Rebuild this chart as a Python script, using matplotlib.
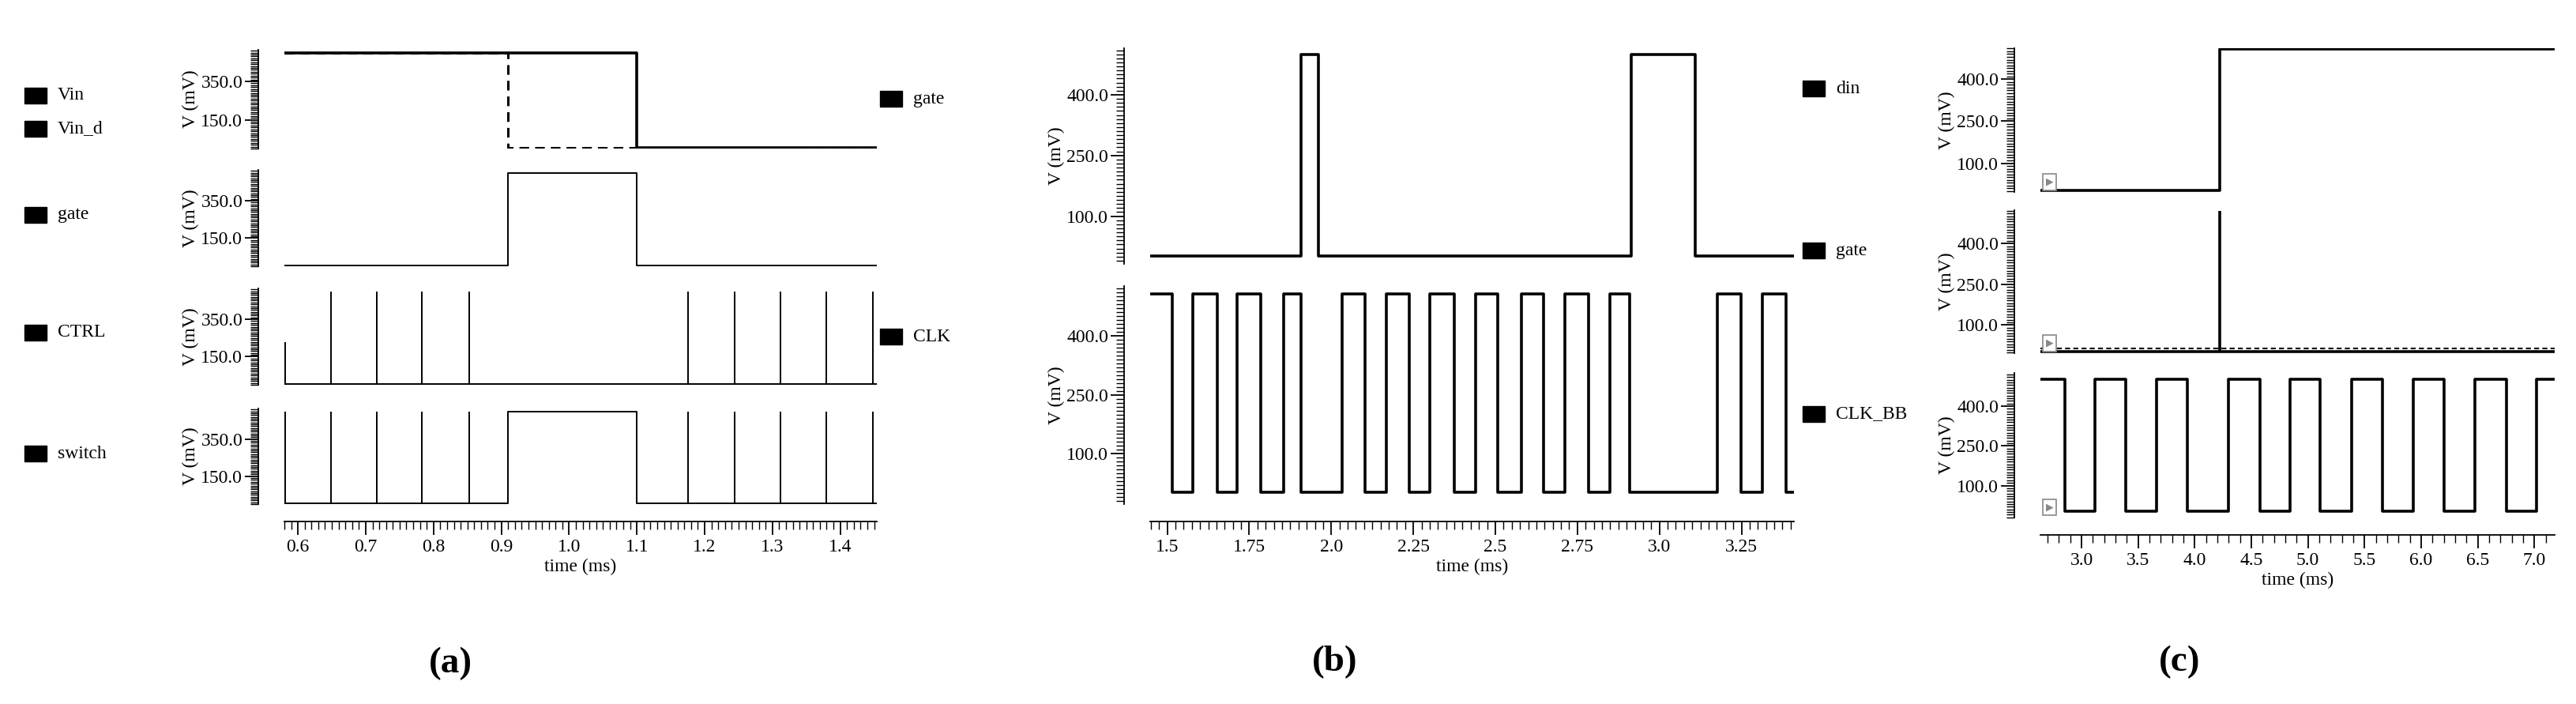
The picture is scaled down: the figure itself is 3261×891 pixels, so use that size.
import matplotlib.pyplot as plt
import matplotlib.ticker as mticker
from matplotlib.patches import Rectangle
import numpy as np

plt.rcParams['font.family'] = ['Liberation Serif', 'DejaVu Serif']
plt.rcParams['font.size'] = 17

W, H = 3262, 891

# ---------------- data ----------------
# panel (a)
a_vin_t = [0.58, 1.10, 1.454]
a_vin_v = [500, 5, 5]
a_vind_t = [0.58, 0.91, 1.454]
a_vind_v = [500, 5, 5]
a_gate_t = [0.58, 0.91, 1.10, 1.454]
a_gate_v = [5, 500, 5, 5]
a_ctrl_spikes = [0.581, 0.649, 0.7165, 0.783, 0.853, 1.175, 1.244, 1.312, 1.379, 1.448]
a_ctrl_heights = [230, 500, 500, 500, 500, 500, 500, 500, 500, 500]
a_sw_spikes = [0.581, 0.649, 0.7165, 0.783, 0.853, 1.175, 1.244, 1.312, 1.379, 1.448]
a_sw_t = [0.58, 0.91, 1.10, 1.454]
a_sw_v = [5, 500, 5, 5]

# panel (b)
b_din_t = [1.448, 1.909, 1.96, 2.913, 3.11, 3.41]
b_din_v = [2, 500, 2, 500, 2, 2]
b_clk_t = [1.448, 1.515, 1.579, 1.652, 1.712, 1.784, 1.855, 1.909, 2.034, 2.102,
           2.167, 2.237, 2.30, 2.375, 2.44, 2.507, 2.58, 2.646, 2.712, 2.785,
           2.85, 2.909, 3.176, 3.248, 3.314, 3.386, 3.41]
b_clk_v = [506, 3, 506, 3, 506, 3, 506, 3, 506, 3,
           506, 3, 506, 3, 506, 3, 506, 3, 506, 3,
           506, 3, 506, 3, 506, 3, 3]

# panel (c)
c_din_t = [2.637, 4.223, 7.18]
c_din_v = [3, 508, 508]
c_gate_spike_t = 4.223
c_gate_spike_v = 520
c_clk_t = [2.637, 2.853, 3.118, 3.391, 3.665, 3.934, 4.297, 4.574, 4.839, 5.108,
           5.389, 5.659, 5.928, 6.205, 6.478, 6.752, 7.02, 7.18]
c_clk_v = [501, 4, 501, 4, 501, 4, 501, 4, 501, 4,
           501, 4, 501, 4, 501, 4, 501, 501]


def box(x0, y0, x1, y1):
    return [x0 / W, 1 - y1 / H, (x1 - x0) / W, (y1 - y0) / H]


fig = plt.figure(figsize=(W / 100, H / 100), dpi=100)


def style(ax, xlim, ylim, yticks, yminor, bottom=False, xticks=None, xminor=None, xfmt=None):
    ax.set_xlim(*xlim)
    ax.set_ylim(*ylim)
    for s in ['top', 'right']:
        ax.spines[s].set_visible(False)
    ax.spines['left'].set_position(('outward', 24))
    ax.spines['left'].set_linewidth(1.3)
    ax.set_yticks(yticks)
    ax.set_yticklabels([f'{v:.1f}' for v in yticks])
    ax.yaxis.set_minor_locator(mticker.MultipleLocator(yminor))
    ax.tick_params(axis='y', which='major', length=12, width=1.3, labelsize=17, pad=2)
    ax.tick_params(axis='y', which='minor', length=7, width=1.0)
    ax.set_ylabel('V (mV)', fontsize=17, labelpad=2)
    if bottom:
        ax.spines['bottom'].set_position(('outward', 16))
        ax.spines['bottom'].set_linewidth(1.3)
        ax.set_xticks(xticks)
        ax.set_xticklabels(xfmt)
        ax.xaxis.set_minor_locator(mticker.MultipleLocator(xminor))
        ax.tick_params(axis='x', which='major', length=12, width=1.3, labelsize=17)
        ax.tick_params(axis='x', which='minor', length=7, width=1.0)
        ax.set_xlabel('time (ms)', fontsize=17, labelpad=3)
    else:
        ax.spines['bottom'].set_visible(False)
        ax.set_xticks([])


def play_icon(ax):
    ax.text(0.01, 0.07, '\u25B6', transform=ax.transAxes, fontsize=9, color='#888888',
            family='DejaVu Sans', va='center', ha='left',
            bbox=dict(boxstyle='square,pad=0.3', fc='white', ec='#888888', lw=1.2))


def legend_item(x, y, label):
    fig.add_artist(Rectangle((x / W, 1 - (y + 10) / H), 28 / W, 20 / H,
                             transform=fig.transFigure, color='black'))
    fig.text((x + 42) / W, 1 - y / H, label, fontsize=17, va='center', ha='left')


# ---------------- panel (a) ----------------
a_rows = [(63, 188), (215, 337), (365, 487), (517, 638)]
a_xlim = (0.58, 1.454)
a_ylim = (0, 515)
axs_a = [fig.add_axes(box(360, r0, 1110, r1)) for r0, r1 in a_rows]
a_xt = [0.6, 0.7, 0.8, 0.9, 1.0, 1.1, 1.2, 1.3, 1.4]
for i, ax in enumerate(axs_a):
    style(ax, a_xlim, a_ylim, [150, 350], 10, bottom=(i == 3),
          xticks=a_xt, xminor=0.01, xfmt=[f'{v:.1f}' for v in a_xt])

axs_a[0].step(a_vind_t, a_vind_v, where='post', color='black', lw=2.2, ls=(0, (4, 2.5)))
axs_a[0].step(a_vin_t, a_vin_v, where='post', color='black', lw=2.6)
axs_a[1].step(a_gate_t, a_gate_v, where='post', color='black', lw=1.4)
axs_a[2].plot(a_xlim, [5, 5], color='black', lw=1.4)
axs_a[2].vlines(a_ctrl_spikes, 5, a_ctrl_heights, color='black', lw=1.4)
axs_a[3].step(a_sw_t, a_sw_v, where='post', color='black', lw=1.4)
axs_a[3].vlines(a_sw_spikes, 5, 500, color='black', lw=1.4)

legend_item(31, 121, 'Vin')
legend_item(31, 163, 'Vin_d')
legend_item(31, 272, 'gate')
legend_item(31, 421, 'CTRL')
legend_item(31, 574, 'switch')
legend_item(1114, 125, 'gate')
legend_item(1114, 426, 'CLK')

fig.text(570 / W, 1 - 840 / H, '(a)', fontsize=34, fontweight='bold', ha='center', va='center')

# ---------------- panel (b) ----------------
axb1 = fig.add_axes(box(1456, 61, 2271, 334))
axb2 = fig.add_axes(box(1456, 362, 2271, 638))
b_xlim = (1.448, 3.41)
b_xt = [1.5, 1.75, 2.0, 2.25, 2.5, 2.75, 3.0, 3.25]
b_xl = ['1.5', '1.75', '2.0', '2.25', '2.5', '2.75', '3.0', '3.25']
style(axb1, b_xlim, (-18, 515), [100, 250, 400], 10)
style(axb2, b_xlim, (-28, 527), [100, 250, 400], 10, bottom=True,
      xticks=b_xt, xminor=0.025, xfmt=b_xl)
axb1.step(b_din_t, b_din_v, where='post', color='black', lw=2.6)
axb2.step(b_clk_t, b_clk_v, where='post', color='black', lw=2.6)

legend_item(2282, 112, 'din')
legend_item(2282, 317, 'gate')
legend_item(2282, 524, 'CLK_BB')

fig.text(1690 / W, 1 - 838 / H, '(b)', fontsize=34, fontweight='bold', ha='center', va='center')

# ---------------- panel (c) ----------------
c_xlim = (2.637, 7.18)
axc1 = fig.add_axes(box(2583, 61, 3234, 243))
axc2 = fig.add_axes(box(2583, 266, 3234, 447))
axc3 = fig.add_axes(box(2583, 472, 3234, 655))
c_xt = [3.0, 3.5, 4.0, 4.5, 5.0, 5.5, 6.0, 6.5, 7.0]
style(axc1, c_xlim, (-3, 511), [100, 250, 400], 10)
style(axc2, c_xlim, (-3, 522), [100, 250, 400], 10)
style(axc3, c_xlim, (-21, 526), [100, 250, 400], 10, bottom=True,
      xticks=c_xt, xminor=0.1, xfmt=[f'{v:.1f}' for v in c_xt])
axc1.step(c_din_t, c_din_v, where='post', color='black', lw=2.6)
axc2.plot(c_xlim, [3, 3], color='black', lw=2.6)
axc2.plot(c_xlim, [15, 15], color='black', lw=1.5, ls=(0, (3, 2)))
axc2.vlines([c_gate_spike_t], 3, c_gate_spike_v, color='black', lw=2.6)
axc3.step(c_clk_t, c_clk_v, where='post', color='black', lw=2.6)
for ax in (axc1, axc2, axc3):
    play_icon(ax)

fig.text(2759 / W, 1 - 838 / H, '(c)', fontsize=34, fontweight='bold', ha='center', va='center')

fig.savefig('out.png', dpi=100, facecolor='white')
